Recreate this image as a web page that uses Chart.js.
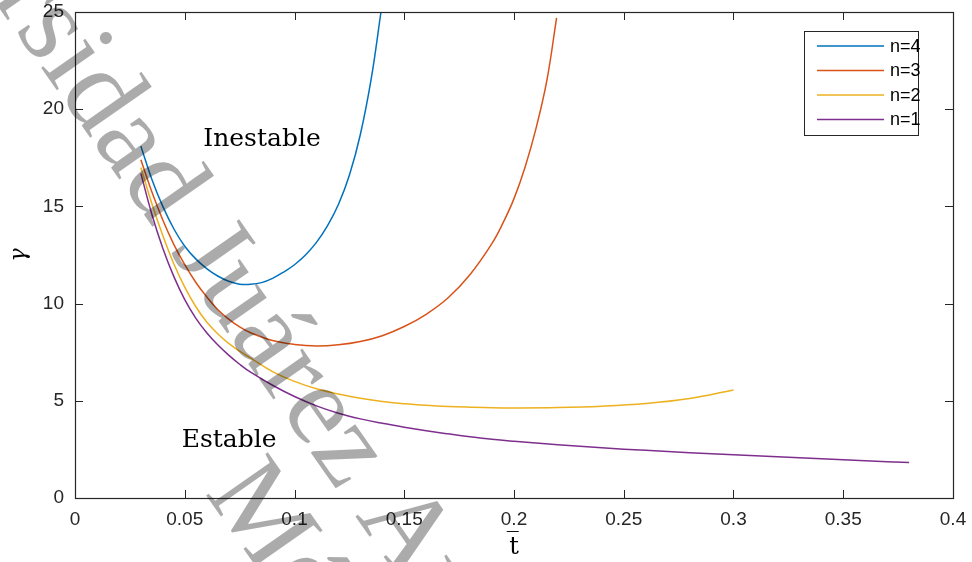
<!DOCTYPE html>
<html>
<head>
<meta charset="utf-8">
<script src="https://cdn.jsdelivr.net/npm/chart.js@4"></script>
<style>
  html, body { margin: 0; background: #fff; }
</style>
</head>
<body>
<canvas id="chart" width="972" height="562"></canvas>
<script>
// curve data: t (x) and gamma (y) for each n
const seriesLabels = ["n=4", "n=3", "n=2", "n=1"];
const seriesColors = ["#0072BD", "#D95319", "#EDB120", "#7E2F8E"];

const tN4 = [0.03, 0.035, 0.04, 0.045, 0.05, 0.055, 0.06, 0.065, 0.07, 0.075, 0.08, 0.085, 0.09, 0.095, 0.1, 0.105, 0.11, 0.115, 0.12, 0.125, 0.13, 0.135, 0.1394];
const gN4 = [18.1, 16.4, 15.0, 13.85, 12.95, 12.3, 11.8, 11.42, 11.15, 11.0, 10.99, 11.08, 11.3, 11.62, 12.0, 12.5, 13.15, 14.0, 15.1, 16.6, 18.7, 21.6, 25.0];

const tN3 = [0.03, 0.035, 0.04, 0.045, 0.05, 0.055, 0.06, 0.065, 0.07, 0.075, 0.08, 0.09, 0.1, 0.11, 0.12, 0.13, 0.14, 0.15, 0.16, 0.17, 0.18, 0.19, 0.195, 0.2, 0.205, 0.21, 0.215, 0.2194];
const gN3 = [17.4, 15.75, 14.3, 13.05, 12.0, 11.1, 10.35, 9.7, 9.2, 8.8, 8.5, 8.1, 7.9, 7.82, 7.88, 8.05, 8.35, 8.82, 9.45, 10.3, 11.5, 13.1, 14.15, 15.4, 17.0, 19.0, 21.5, 24.7];

const tN2 = [0.03, 0.035, 0.04, 0.045, 0.05, 0.055, 0.06, 0.065, 0.07, 0.075, 0.08, 0.09, 0.1, 0.11, 0.12, 0.13, 0.14, 0.15, 0.16, 0.17, 0.18, 0.19, 0.2, 0.22, 0.24, 0.26, 0.28, 0.3];
const gN2 = [17.0, 15.15, 13.5, 12.05, 10.85, 9.85, 9.05, 8.45, 7.95, 7.55, 7.2, 6.5, 6.0, 5.62, 5.35, 5.13, 4.96, 4.85, 4.77, 4.71, 4.67, 4.64, 4.63, 4.65, 4.72, 4.86, 5.12, 5.56];

const tN1 = [0.03, 0.035, 0.04, 0.045, 0.05, 0.055, 0.06, 0.065, 0.07, 0.075, 0.08, 0.09, 0.1, 0.11, 0.12, 0.13, 0.14, 0.15, 0.16, 0.17, 0.18, 0.19, 0.2, 0.22, 0.24, 0.26, 0.28, 0.3, 0.32, 0.34, 0.36, 0.38];
const gN1 = [16.7, 14.6, 12.85, 11.4, 10.2, 9.25, 8.5, 7.88, 7.35, 6.88, 6.47, 5.8, 5.22, 4.74, 4.36, 4.07, 3.84, 3.64, 3.46, 3.3, 3.15, 3.02, 2.92, 2.74, 2.58, 2.45, 2.33, 2.22, 2.12, 2.02, 1.92, 1.82];

const xTickLabels = ["0", "0.05", "0.1", "0.15", "0.2", "0.25", "0.3", "0.35", "0.4"];
const yTickLabels = ["0", "5", "10", "15", "20", "25"];

const regionLabels = ["Inestable", "Estable"];
const regionX = [0.0852, 0.0702];
const regionY = [18.42, 2.98];

const watermarkLines = ["Universidad Juárez Autónoma de Tabasco", "México"];

const xs = [tN4, tN3, tN2, tN1];
const ys = [gN4, gN3, gN2, gN1];

const datasets = seriesLabels.map((label, i) => ({
    label,
    data: xs[i].map((t, j) => ({ x: t, y: ys[i][j] })),
    borderColor: seriesColors[i],
    backgroundColor: seriesColors[i],
    borderWidth: 1.5,
    pointRadius: 0,
    showLine: true,
    tension: 0.4,
    fill: false
}));

const axisColor = "#262626";
const tickFont = { family: "Liberation Sans", size: 19 };

const matlabFrame = {
    id: "matlabFrame",
    afterDatasetsDraw(chart) {
        const { ctx, chartArea: a, scales } = chart;
        ctx.save();
        ctx.strokeStyle = axisColor;
        ctx.lineWidth = 1;
        // tick marks inside the box, on all four sides
        ctx.beginPath();
        scales.x.ticks.forEach(t => {
            const px = Math.round(scales.x.getPixelForValue(t.value)) + 0.5;
            ctx.moveTo(px, a.bottom); ctx.lineTo(px, a.bottom - 8);
            ctx.moveTo(px, a.top); ctx.lineTo(px, a.top + 8);
        });
        scales.y.ticks.forEach(t => {
            const py = Math.round(scales.y.getPixelForValue(t.value)) + 0.5;
            ctx.moveTo(a.left, py); ctx.lineTo(a.left + 8, py);
            ctx.moveTo(a.right, py); ctx.lineTo(a.right - 8, py);
        });
        ctx.stroke();
        ctx.lineWidth = 1.2;
        ctx.strokeRect(Math.round(a.left) + 0.5, Math.round(a.top) + 0.5,
            Math.round(a.right - a.left), Math.round(a.bottom - a.top));
        ctx.restore();
    },
    afterDraw(chart) {
        const { ctx, chartArea: a, scales } = chart;
        ctx.save();

        // region labels
        ctx.fillStyle = "#000";
        ctx.font = '25px "DejaVu Serif"';
        ctx.textAlign = "center";
        ctx.textBaseline = "middle";
        regionLabels.forEach((txt, i) => {
            ctx.fillText(txt, scales.x.getPixelForValue(regionX[i]), scales.y.getPixelForValue(regionY[i]));
        });

        // legend box
        const bx = a.right - 149, by = a.top + 19, bw = 114, bh = 104;
        ctx.fillStyle = "#fff";
        ctx.fillRect(bx, by, bw, bh);
        ctx.strokeStyle = axisColor;
        ctx.lineWidth = 1;
        ctx.strokeRect(bx + 0.5, by + 0.5, bw, bh);
        ctx.font = '18px "Liberation Sans"';
        ctx.textAlign = "left";
        chart.data.datasets.forEach((ds, i) => {
            const ry = by + 15 + i * 24.5;
            ctx.strokeStyle = ds.borderColor;
            ctx.lineWidth = 1.5;
            ctx.beginPath();
            ctx.moveTo(bx + 13, ry); ctx.lineTo(bx + 80, ry);
            ctx.stroke();
            ctx.fillStyle = "#000";
            ctx.fillText(ds.label, bx + 86, ry + 1);
        });

        // watermark
        ctx.translate(14, 29);
        ctx.rotate(55 * Math.PI / 180);
        ctx.font = '115px "Liberation Serif"';
        ctx.fillStyle = "rgba(0,0,0,0.33)";
        ctx.textAlign = "left";
        ctx.textBaseline = "alphabetic";
        const off = ctx.measureText("Univer").width;
        ctx.fillText(watermarkLines[0], -off, 0);
        ctx.fillText(watermarkLines[1], 489, 110);
        ctx.restore();
    }
};

new Chart(document.getElementById("chart"), {
    type: "scatter",
    data: { datasets },
    options: {
        responsive: false,
        animation: false,
        devicePixelRatio: 1,
        layout: { padding: { top: 12, right: 19, left: 0, bottom: 0 } },
        plugins: {
            legend: { display: false },
            tooltip: { enabled: false }
        },
        scales: {
            x: {
                type: "linear",
                min: 0,
                max: 0.4,
                grid: { display: false, drawTicks: false },
                border: { display: false },
                ticks: {
                    stepSize: 0.05,
                    font: tickFont,
                    color: axisColor,
                    padding: 10,
                    maxRotation: 0,
                    callback: (v, i) => xTickLabels[i]
                },
                title: {
                    display: true,
                    text: "t\u0305",
                    color: "#000",
                    font: { family: "DejaVu Serif", size: 24 },
                    padding: 0
                },
                afterFit(s) {
                    s.height = 64;
                    s.paddingLeft = 0;
                    s.paddingRight = 0;
                }
            },
            y: {
                min: 0,
                max: 25,
                grid: { display: false, drawTicks: false },
                border: { display: false },
                ticks: {
                    stepSize: 5,
                    font: tickFont,
                    color: axisColor,
                    padding: 11,
                    callback: (v, i) => yTickLabels[i]
                },
                title: {
                    display: true,
                    text: "γ",
                    color: "#000",
                    font: { family: "DejaVu Serif", size: 22, style: "italic" },
                    padding: { top: 6, bottom: 0 }
                },
                afterFit(s) {
                    s.width = 75;
                    s.paddingTop = 0;
                    s.paddingBottom = 0;
                }
            }
        }
    },
    plugins: [matlabFrame]
});
</script>
</body>
</html>
